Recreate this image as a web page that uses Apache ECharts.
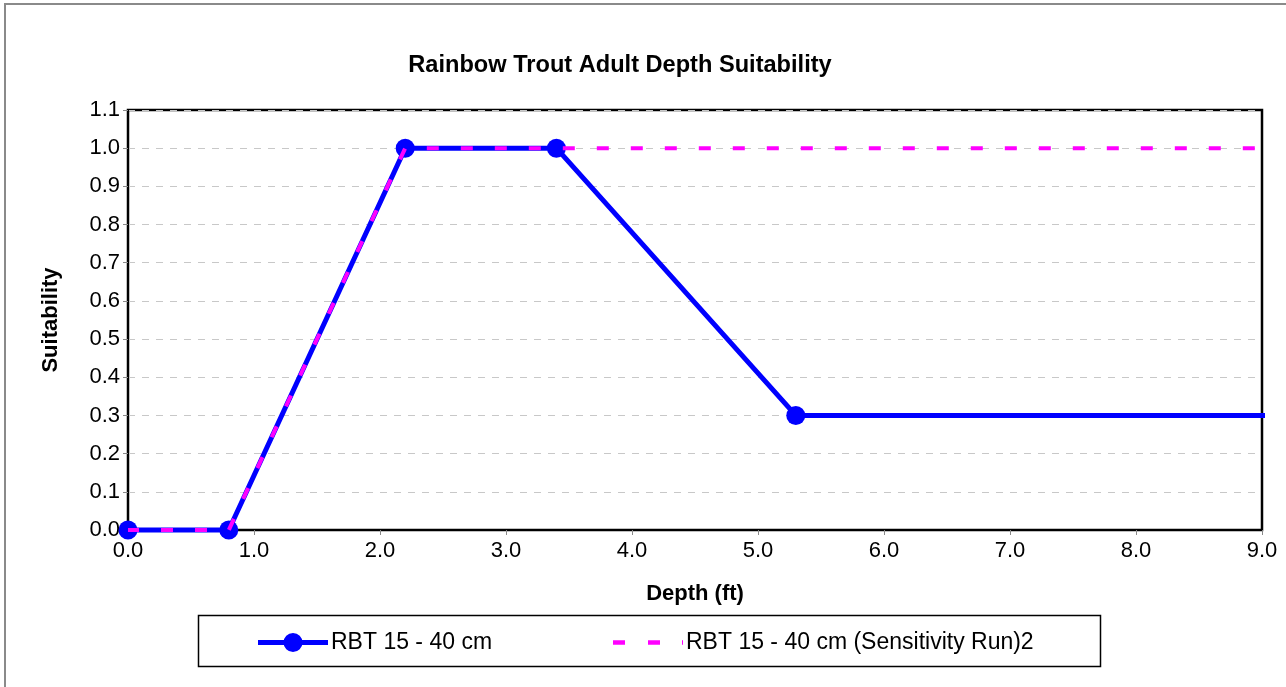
<!DOCTYPE html>
<html><head><meta charset="utf-8">
<script src="https://cdn.jsdelivr.net/npm/echarts@6/dist/echarts.min.js"></script>
<style>html,body{margin:0;padding:0;background:#fff}#c{width:1286px;height:687px}</style>
</head><body><div id="c"></div>
<script>
const titleText = 'Rainbow Trout Adult Depth Suitability';
const xName = 'Depth (ft)';
const yName = 'Suitability';
const seriesNames = ['RBT 15 - 40 cm', 'RBT 15 - 40 cm (Sensitivity Run)2'];
const rbtDepth = [0.0, 0.8, 2.2, 3.4, 5.3, 9.08];
const rbtSuit  = [0.0, 0.0, 1.0, 1.0, 0.3, 0.3];
const sensDepth = [0.0, 0.8, 2.2, 3.4, 9.0];
const sensSuit  = [0.0, 0.0, 1.0, 1.0, 1.0];

const font = '"Liberation Sans", Arial, sans-serif';
const fs = 22;
const chart = echarts.init(document.getElementById('c'));
const rbtData = rbtDepth.map((x, i) => {
  const d = { value: [x, rbtSuit[i]] };
  if (x > 9) d.symbol = 'none';
  return d;
});
const sensData = sensDepth.map((x, i) => [x, sensSuit[i]]);

const blueIcon = 'path://M0,7H27V12H0Z M43,7H70V12H43Z M25.5,9.5A9.5,9.5,0,1,1,44.5,9.5A9.5,9.5,0,1,1,25.5,9.5Z';
const pinkIcon = 'path://M0,0H12V4.5H0Z M35,0H47V4.5H35Z M69,0H70V4.5H69Z';
const legendCommon = {
  top: 631, itemWidth: 70, itemHeight: 19, padding: 0, itemGap: 0,
  symbolKeepAspect: true,
  itemStyle: { borderWidth: 0 },
  textStyle: { fontFamily: font, fontSize: 23, color: '#000', padding: [0, 0, 0, -2] }
};

chart.setOption({
  backgroundColor: '#fff',
  animation: false,
  title: {
    text: titleText, left: 615, top: 48, textAlign: 'center',
    textStyle: { fontFamily: font, fontSize: 23.6, fontWeight: 'bold', color: '#000' }
  },
  grid: { left: 128, top: 110, right: 24, bottom: 157, show: true, borderColor: '#000', borderWidth: 2.5, backgroundColor: '#fff' },
  xAxis: {
    type: 'value', min: 0, max: 9, interval: 1,
    name: xName, nameLocation: 'middle', nameGap: 53,
    nameTextStyle: { fontFamily: font, fontSize: fs, fontWeight: 'bold', color: '#000' },
    axisLine: { show: true, lineStyle: { color: '#000', width: 2 } },
    axisTick: { show: true, length: 5, lineStyle: { color: '#888' } },
    axisLabel: { fontFamily: font, fontSize: fs, color: '#000', margin: 10, formatter: v => v.toFixed(1) },
    splitLine: { show: false }
  },
  yAxis: {
    type: 'value', min: 0, max: 1.1, interval: 0.1,
    name: yName, nameLocation: 'middle', nameGap: 66, nameRotate: 90,
    nameTextStyle: { fontFamily: font, fontSize: fs, fontWeight: 'bold', color: '#000' },
    axisLine: { show: true, lineStyle: { color: '#000', width: 2 } },
    axisTick: { show: true, length: 5, lineStyle: { color: '#888' } },
    axisLabel: { fontFamily: font, fontSize: fs, color: '#000', margin: 8, formatter: v => v.toFixed(1) },
    splitLine: { show: true, lineStyle: { color: '#c8c8c8', type: [7, 7], width: 1 } }
  },
  legend: [
    Object.assign({}, legendCommon, { left: 258, data: [{ name: seriesNames[0], icon: blueIcon, itemStyle: { color: '#0000ff' } }] }),
    Object.assign({}, legendCommon, { left: 613, data: [{ name: seriesNames[1], icon: pinkIcon, itemStyle: { color: '#ff00ff' } }] })
  ],
  graphic: [
    { type: 'rect', shape: { x: 5, y: 4, width: 1400, height: 800 }, style: { fill: 'none', stroke: '#8a8a8a', lineWidth: 2 }, z: -10, silent: true },
    { type: 'rect', shape: { x: 198.5, y: 615.5, width: 902, height: 51 }, style: { fill: 'none', stroke: '#000', lineWidth: 1.5 }, z: -5, silent: true }
  ],
  series: [
    {
      name: seriesNames[0], type: 'line', data: rbtData, clip: false,
      symbol: 'circle', symbolSize: 19, showSymbol: true,
      itemStyle: { color: '#0000ff' },
      lineStyle: { color: '#0000ff', width: 5 },
      z: 2
    },
    {
      name: seriesNames[1], type: 'line', data: sensData,
      symbol: 'none',
      itemStyle: { color: '#ff00ff' },
      lineStyle: { color: '#ff00ff', width: 4, type: [12, 22], dashOffset: 1, cap: 'butt' },
      z: 3
    }
  ]
});
</script></body></html>
